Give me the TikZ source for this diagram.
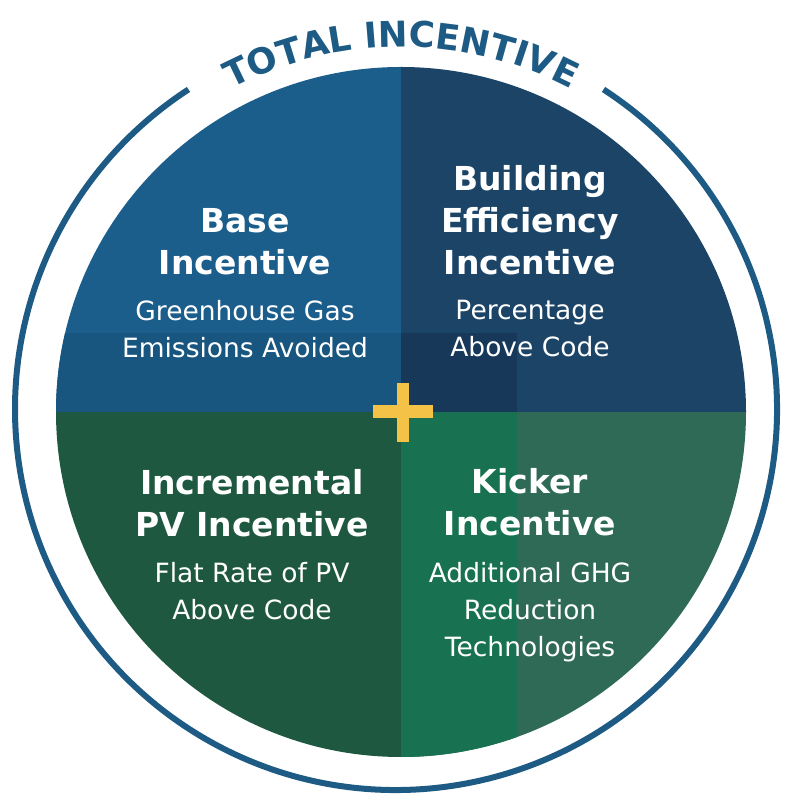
\documentclass[tikz,border=0pt]{standalone}
\usepackage{fontspec}
\setmainfont{DejaVu Sans}
\usepackage{xcolor}
\usepackage{tikz}
\usetikzlibrary{decorations.text}
\definecolor{ringblue}{RGB}{29,91,133}
\definecolor{tlblue}{RGB}{27,93,139}
\definecolor{tlband}{RGB}{24,86,128}
\definecolor{trblue}{RGB}{27,68,103}
\definecolor{trdark}{RGB}{23,56,89}
\definecolor{blgreen}{RGB}{31,88,64}
\definecolor{brstrip}{RGB}{24,114,82}
\definecolor{brgreen}{RGB}{47,106,87}
\definecolor{plusyellow}{RGB}{243,194,70}
\newcommand{\headfont}{\bfseries\fontsize{33}{42}\selectfont}
\newcommand{\bodyfont}{\fontsize{26.5}{37}\selectfont}
\newcommand{\titlefont}{\bfseries\fontsize{35.5}{40}\selectfont}
\begin{document}
\begin{tikzpicture}[x=1pt, y=1pt]

	\tikzstyle{headtext}=[text=white, font=\headfont, align=center, inner sep=0pt]
	\tikzstyle{bodytext}=[text=white, font=\bodyfont, align=center, inner sep=0pt]
	\tikzstyle{ring}=[draw=ringblue, line width=6pt]

	\useasboundingbox (0,0) rectangle (785,797);
	\coordinate (cen) at (401,385);
	\coordinate (ringcen) at (396,388);

	% quadrants
	\begin{scope}
		\clip (cen) circle[radius=345];
		\fill[tlblue] (cen) rectangle (0,797);
		\fill[tlband] (cen) rectangle (0,464);
		\fill[trblue] (cen) rectangle (785,797);
		\fill[trdark] (cen) rectangle (517,464);
		\fill[blgreen] (cen) rectangle (0,0);
		\fill[brgreen] (cen) rectangle (785,0);
		\fill[brstrip] (cen) rectangle (517,0);
	\end{scope}

	% outer ring and title
	\draw[ring] ([shift={(57:381)}]ringcen) arc[start angle=57, end angle=-237, radius=381];
	\path[decorate, decoration={text along path, text align=center,
		text={|\titlefont\color{ringblue}|TOTAL INCENTIVE}}]
		([shift={(150:365)}]cen) arc[start angle=150, end angle=30, radius=365];

	% plus
	\fill[plusyellow] (373,379) rectangle (433,391.5);
	\fill[plusyellow] (397,355) rectangle (409,414);

	% base of a node = baseline of its last line
	\node (basehead) at (245,522) [headtext, anchor=base] {Base\\Incentive};
	\node (basebody) at (245,439) [bodytext, anchor=base] {Greenhouse Gas\\Emissions Avoided};

	\node (effhead) at (530,522) [headtext, anchor=base] {Building\\Efficiency\\Incentive};
	\node (effbody) at (530,440) [bodytext, anchor=base] {Percentage\\Above Code};

	\node (pvhead) at (252,260) [headtext, anchor=base] {Incremental\\PV Incentive};
	\node (pvbody) at (252,177) [bodytext, anchor=base] {Flat Rate of PV\\Above Code};

	\node (kickhead) at (530,261) [headtext, anchor=base] {Kicker\\Incentive};
	\node (kickbody) at (530,140) [bodytext, anchor=base] {Additional GHG\\Reduction\\Technologies};
\end{tikzpicture}
\end{document}
